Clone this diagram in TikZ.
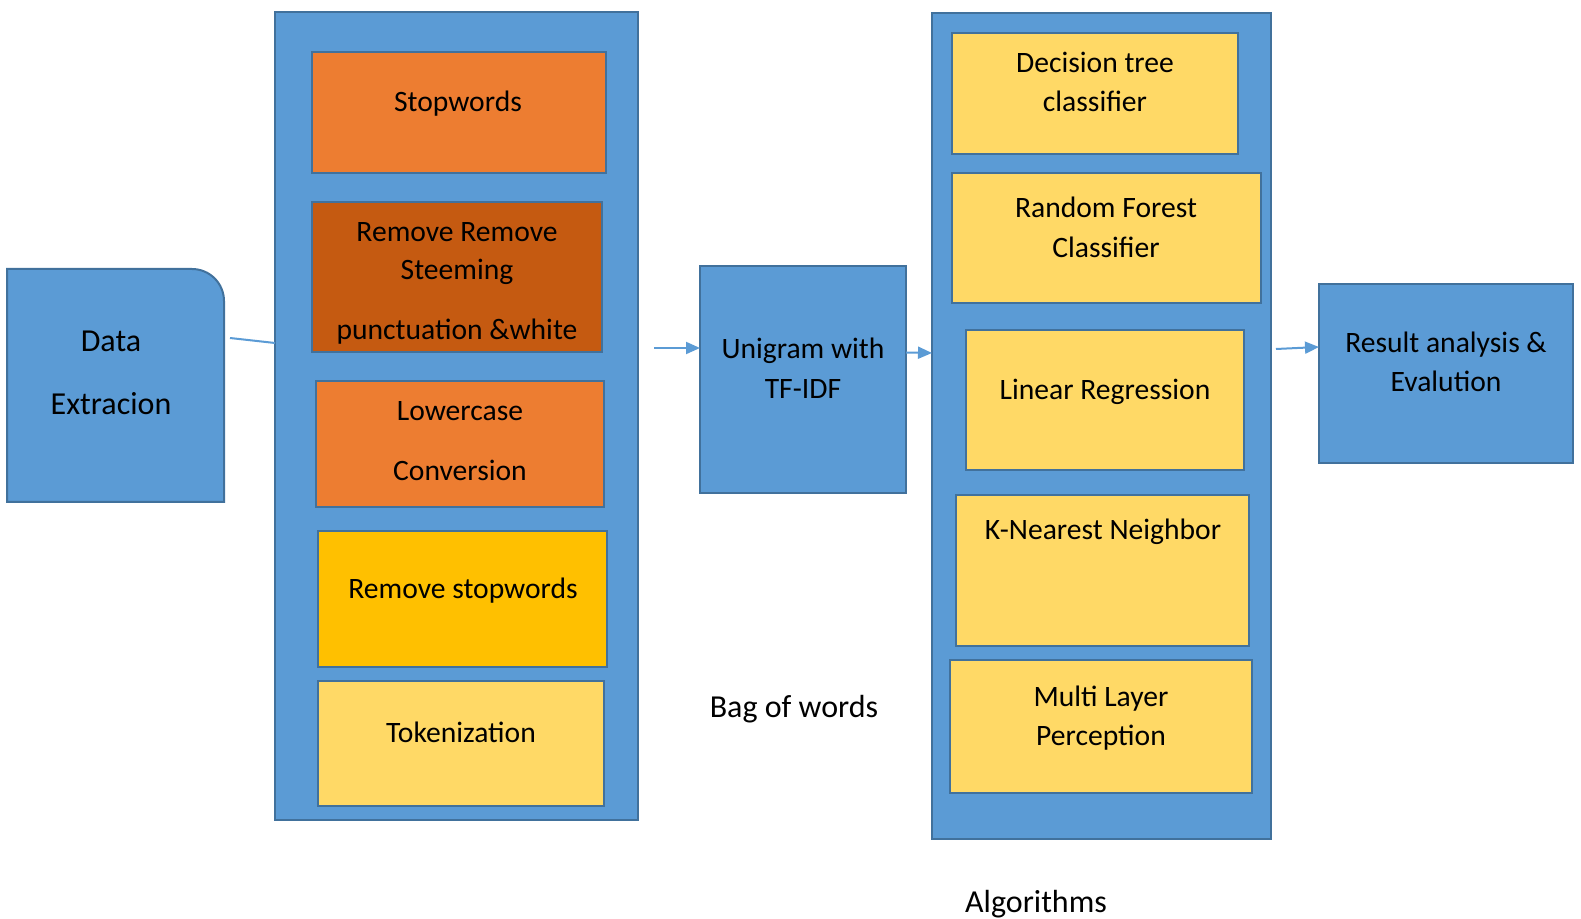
\documentclass[tikz,border=0pt]{standalone}
\usepackage{fontspec}
\setmainfont{Carlito}
\usetikzlibrary{fit,calc,arrows.meta}
\definecolor{panelblue}{HTML}{5B9BD5}
\definecolor{edgeblue}{HTML}{41719C}
\definecolor{orangebox}{HTML}{ED7D31}
\definecolor{rustbox}{HTML}{C55A11}
\definecolor{goldbox}{HTML}{FFC000}
\definecolor{paleyellow}{HTML}{FFD966}
\tikzset{
  box/.style={draw=edgeblue, line width=1pt, inner sep=0pt, outer sep=0pt},
  bluebox/.style={box, fill=panelblue},
  orangeb/.style={box, fill=orangebox},
  rustb/.style={box, fill=rustbox},
  goldb/.style={box, fill=goldbox},
  yellowb/.style={box, fill=paleyellow},
  txt/.style={anchor=base, inner sep=0pt, font=\fontsize{14.8}{17}\selectfont},
  bigtxt/.style={anchor=base, inner sep=0pt, font=\fontsize{16}{19}\selectfont},
  link/.style={draw=panelblue, line width=1pt},
  arrowlink/.style={link, -{Triangle[length=7pt,width=6pt]}}
}
\begin{document}
\begin{tikzpicture}[x=0.5pt,y=-0.5pt]
\useasboundingbox (0,0) rectangle (1581,919);

% data extraction block with one rounded corner
\node[inner sep=0pt, outer sep=0pt, fit={(7,269) (224,502)}] (dataex) {};
\filldraw[fill=panelblue, draw=edgeblue, line width=1pt]
  (dataex.south west) -- (dataex.north west) -- ($(dataex.north east)+(-32,0)$)
  arc[start angle=90, end angle=0, radius=16pt] -- (dataex.south east) -- cycle;
\node[bigtxt] (dataT1) at (111,352) {Data};
\node[bigtxt] (dataT2) at (111,415) {Extracion};

% preprocessing panel
\node[bluebox, fit={(275,12) (638,820)}] (prep) {};
\node[orangeb, fit={(312,52) (606,173)}] (stop) {};
\node[rustb, fit={(312,202) (602,352)}] (stem) {};
\node[orangeb, fit={(316,381) (604,507)}] (lower) {};
\node[goldb, fit={(318,531) (607,667)}] (rmstop) {};
\node[yellowb, fit={(318,681) (604,806)}] (token) {};
\node[txt] (stopT) at (458,112) {Stopwords};
\node[txt] (stemT1) at (457,242) {Remove Remove};
\node[txt] (stemT2) at (457,280) {Steeming};
\node[txt] (stemT3) at (457,340) {punctuation \&white};
\node[txt] (lowerT1) at (460,421) {Lowercase};
\node[txt] (lowerT2) at (460,481) {Conversion};
\node[txt] (rmstopT) at (463,599) {Remove stopwords};
\node[txt] (tokenT) at (461,742) {Tokenization};

% feature extraction
\node[bluebox, fit={(700,266) (906,493)}] (unigram) {};
\node[txt] (uniT1) at (803,359) {Unigram with};
\node[txt] (uniT2) at (803,399) {TF-IDF};
\node[bigtxt] (bagT) at (794,718) {Bag of words};

% algorithms panel
\node[bluebox, fit={(932,13) (1271,839)}] (algo) {};
\node[yellowb, fit={(952,33) (1238,154)}] (dtree) {};
\node[yellowb, fit={(952,173) (1261,303)}] (rforest) {};
\node[yellowb, fit={(966,330) (1244,470)}] (linreg) {};
\node[yellowb, fit={(956,495) (1249,646)}] (knn) {};
\node[yellowb, fit={(950,660) (1252,793)}] (mlp) {};
\node[txt] (dtreeT1) at (1095,73) {Decision tree};
\node[txt] (dtreeT2) at (1095,112) {classifier};
\node[txt] (rforestT1) at (1106,218) {Random Forest};
\node[txt] (rforestT2) at (1106,258) {Classifier};
\node[txt] (linregT) at (1105,400) {Linear Regression};
\node[txt] (knnT) at (1103,540) {K-Nearest Neighbor};
\node[txt] (mlpT1) at (1101,706) {Multi Layer};
\node[txt] (mlpT2) at (1101,746) {Perception};
\node[bigtxt] (algoT) at (1036,912) {Algorithms};

% evaluation
\node[bluebox, fit={(1319,284) (1573,463)}] (result) {};
\node[txt] (resT1) at (1446,353) {Result analysis \&};
\node[txt] (resT2) at (1446,392) {Evalution};

% connectors
\coordinate (d1) at ($(dataex.east)+(6,-47.5)$);
\draw[link] (d1) -- ($(prep.west)+(0,-73)$);
\coordinate (a1) at ($(prep.east)+(16,-68)$);
\draw[arrowlink] (a1) -- ($(unigram.west)+(0,-31.5)$);
\draw[arrowlink] ($(unigram.east)+(0,-27)$) -- ($(algo.west)+(0,-73)$);
\coordinate (a3) at ($(algo.east)+(5,-77)$);
\draw[arrowlink] (a3) -- ($(result.west)+(0,-26.5)$);
\end{tikzpicture}
\end{document}
